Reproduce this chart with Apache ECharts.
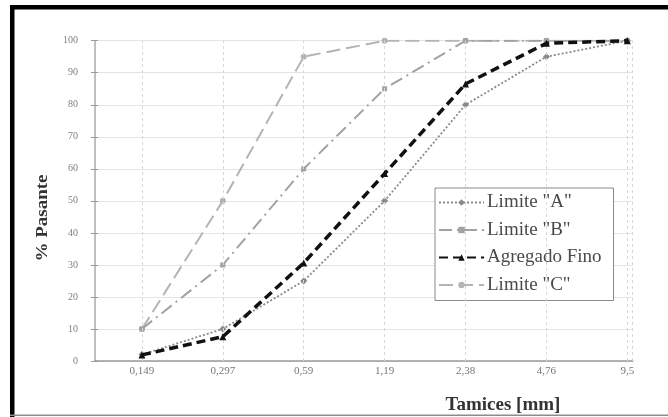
<!DOCTYPE html>
<html>
<head>
<meta charset="utf-8">
<script src="https://cdn.jsdelivr.net/npm/echarts@6/dist/echarts.min.js"></script>
<style>
  html, body { margin: 0; padding: 0; background: #fff; }
  #chart { width: 668px; height: 417px; }
</style>
</head>
<body>
<div id="chart"></div>
<script>
// Sieve sizes (mm) and percent passing for each curve
const tamices = ['0,149', '0,297', '0,59', '1,19', '2,38', '4,76', '9,5'];
const limiteA = [2, 10, 25, 50, 80, 95, 100];
const limiteB = [10, 30, 60, 85, 100, 100, 100];
const agregadoFino = [1.9, 7.6, 30.6, 58.5, 86.5, 99.2, 100];
const limiteC = [10, 50, 95, 100, 100, 100, 100];
const yTicks = [0, 10, 20, 30, 40, 50, 60, 70, 80, 90, 100];

const serif = '"Liberation Serif", "DejaVu Serif", serif';
const idx = tamices.map((_, i) => i);
const pts = arr => arr.map((v, i) => [i, v]);
const X_MIN = -0.58, X_MAX = 6.07;

const chart = echarts.init(document.getElementById('chart'), null, { renderer: 'canvas' });

chart.setOption({
  animation: false,
  backgroundColor: '#fff',
  grid: { left: 95, right: 35, top: 40.7, bottom: 56, containLabel: false },
  xAxis: {
    type: 'value',
    min: X_MIN,
    max: X_MAX,
    splitLine: { show: false },
    axisLine: { show: true, onZero: false, lineStyle: { color: '#9a9a9a', width: 1.5 } },
    axisTick: { show: false },
    axisLabel: {
      customValues: idx,
      formatter: v => tamices[Math.round(v)],
      color: '#777',
      fontFamily: serif,
      fontSize: 11,
      margin: 5
    }
  },
  yAxis: [
    {
      type: 'value',
      min: 0, max: 100, interval: 10,
      axisLine: { show: true, onZero: false, lineStyle: { color: '#aaa', width: 1.5 } },
      axisTick: { show: true, length: 4, lineStyle: { color: '#999' } },
      axisLabel: {
        customValues: yTicks,
        color: '#808080', fontFamily: serif, fontSize: 10, margin: 17
      },
      splitLine: { show: true, lineStyle: { color: '#e4e4e4', width: 1 } }
    },
    {
      type: 'value',
      min: 0, max: 100, interval: 10,
      position: 'left',
      axisLine: { show: false, onZero: false },
      axisTick: { show: true, inside: true, length: 3, lineStyle: { color: '#999' } },
      axisLabel: { show: false },
      splitLine: { show: false }
    }
  ],
  legend: {
    orient: 'vertical',
    left: 435,
    top: 188,
    padding: [5, 12, 6, 3],
    itemWidth: 45,
    itemHeight: 8,
    itemGap: 8.5,
    backgroundColor: '#fff',
    borderColor: '#8a8a8a',
    borderWidth: 1,
    textStyle: { fontFamily: serif, fontSize: 19, color: '#4a4a4a', padding: [0, 0, 0, -2] },
    data: ['Limite "A"', 'Limite "B"', 'Agregado Fino', 'Limite "C"']
  },
  series: [
    {
      // vertical dashed gridlines at each sieve and at the right edge
      type: 'line',
      data: [],
      z: 1,
      silent: true,
      markLine: {
        silent: true,
        symbol: ['none', 'none'],
        label: { show: false },
        lineStyle: { type: [3, 3], color: '#d8d8d8', width: 1 },
        data: idx.concat([X_MAX - 0.01]).map(i => ({ xAxis: i }))
      }
    },
    {
      name: 'Limite "C"',
      type: 'line',
      z: 2,
      data: pts(limiteC),
      symbol: 'circle',
      symbolSize: 6,
      itemStyle: { color: '#b4b4b4' },
      lineStyle: { color: '#b4b4b4', width: 2, type: [14, 6] }
    },
    {
      name: 'Limite "B"',
      type: 'line',
      z: 3,
      data: pts(limiteB),
      symbol: 'rect',
      symbolSize: 5,
      itemStyle: { color: '#a2a2a2' },
      lineStyle: { color: '#a2a2a2', width: 2, type: [13, 5, 2, 5] }
    },
    {
      name: 'Limite "A"',
      type: 'line',
      z: 4,
      data: pts(limiteA),
      symbol: 'diamond',
      symbolSize: 7,
      itemStyle: { color: '#8a8a8a' },
      lineStyle: { color: '#8a8a8a', width: 1.8, type: [2, 2] }
    },
    {
      name: 'Agregado Fino',
      type: 'line',
      z: 5,
      data: pts(agregadoFino),
      symbol: 'triangle',
      symbolSize: 7,
      itemStyle: { color: '#111' },
      lineStyle: { color: '#111', width: 3.5, type: [9, 5] }
    }
  ],
  graphic: [
    // frame
    { type: 'rect', shape: { x: 10, y: 5, width: 658, height: 4.5 }, style: { fill: '#000' }, silent: true },
    { type: 'rect', shape: { x: 10, y: 5, width: 4.5, height: 412 }, style: { fill: '#000' }, silent: true },
    { type: 'rect', shape: { x: 10, y: 414.5, width: 658, height: 1.5 }, style: { fill: '#8c8c8c' }, silent: true },
    // axis titles
    {
      type: 'text',
      x: 43, y: 218,
      rotation: Math.PI / 2,
      scaleY: 0.85,
      style: {
        text: '% Pasante',
        font: 'bold 19px ' + serif,
        fill: '#333',
        align: 'center',
        verticalAlign: 'middle'
      },
      silent: true
    },
    {
      type: 'text',
      x: 503, y: 405,
      style: {
        text: 'Tamices [mm]',
        font: 'bold 19px ' + serif,
        fill: '#333',
        align: 'center',
        verticalAlign: 'middle'
      },
      silent: true
    }
  ]
});
</script>
</body>
</html>
